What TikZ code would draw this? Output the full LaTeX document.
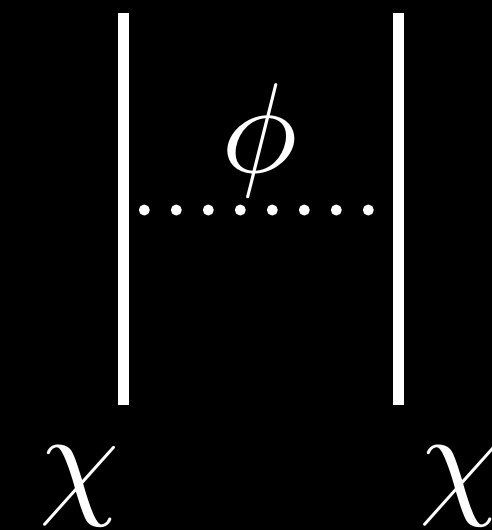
\documentclass[tikz,border=0pt]{standalone}
\tikzset{
  fermion/.style={draw=white, line width=11pt},
  scalardot/.style={fill=white},
  lbl/.style={text=white, inner sep=0pt, scale=12.8}
}
\begin{document}
\begin{tikzpicture}[x=1pt,y=-1pt]
  \fill[black] (0,0) rectangle (492,530);
  \useasboundingbox (0,0) rectangle (492,530);
  \coordinate (l1) at (123.5,13);
  \coordinate (l2) at (123.5,405);
  \coordinate (r1) at (398.5,13);
  \coordinate (r2) at (398.5,405);
  \draw[fermion] (l1) -- (l2);
  \draw[fermion] (r1) -- (r2);
  \foreach \i in {0,...,7} {
    \fill[scalardot] (144.3+32*\i,210) circle (5.5);
  }
  \node[lbl] (phi) at (260,140) {$\phi$};
  \node[lbl] (chiL) at (79.5,486) {$\chi$};
  \node[lbl] (chiR) at (459.5,486) {$\chi$};
\end{tikzpicture}
\end{document}
